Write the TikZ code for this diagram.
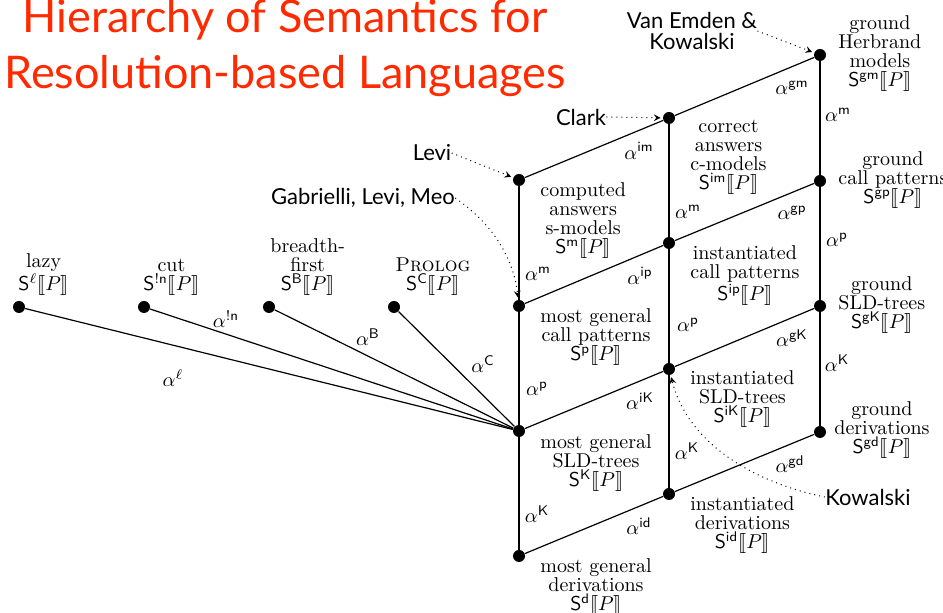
\documentclass[tikz,border=0pt]{standalone}
\usepackage{fontspec}
\usepackage{stmaryrd}
\newfontfamily\gillfont{Lato}
\definecolor{ink}{HTML}{000000}
\definecolor{titleRed}{HTML}{FF2A00}
\newcommand{\semS}[1]{$\mathsf{S}^{\mathsf{#1}}\llbracket P\rrbracket$}
\newcommand{\alf}[1]{$\alpha^{\mathsf{#1}}$}
\tikzset{
    dot/.style={
        circle,
        fill=ink,
        inner sep=0pt,
        minimum size=6pt
    },
    arc/.style={
        draw=ink,
        line width=0.6pt
    },
    cite/.style={
        ->,
        >=stealth,
        draw=ink,
        dotted,
        line width=0.5pt,
        shorten >=1pt
    },
    alabel/.style={
        font=\fontsize{10}{11}\selectfont,
        inner sep=0pt
    },
    domlabel/.style={
        font=\fontsize{10}{9.5}\selectfont,
        align=center,
        inner sep=0pt
    },
    authlabel/.style={
        font=\gillfont\fontsize{11}{10.5}\selectfont,
        text=ink,
        align=center,
        inner sep=0pt
    },
    titletext/.style={
        font=\gillfont\fontsize{22.5}{26}\selectfont,
        text=titleRed,
        anchor=base,
        inner sep=0pt
    }
}

\begin{document}
\begin{tikzpicture}[x=0.5pt,y=-0.5pt]
    \useasboundingbox (0,0) rectangle (943,613);

    % Title
    \node[titletext] (title-1) at (285,33) {Hierarchy of Semantics for};
    \node[titletext] (title-2) at (285,89) {Resolution-based Languages};

    % Search strategies on the left
    \node[dot] (lazy) at (19,307) {};
    \node[dot] (cut) at (144,307) {};
    \node[dot] (bf) at (269,307) {};
    \node[dot] (prolog) at (394,307) {};

    % Most general column
    \node[dot] (m) at (519,180) {};
    \node[dot] (p) at (519,306) {};
    \node[dot] (K) at (519,431) {};
    \node[dot] (d) at (519,556) {};

    % Instantiated column
    \node[dot] (im) at (669,118) {};
    \node[dot] (ip) at (669,243) {};
    \node[dot] (iK) at (669,369) {};
    \node[dot] (id) at (669,494) {};

    % Ground column
    \node[dot] (gm) at (820,55) {};
    \node[dot] (gp) at (820,181) {};
    \node[dot] (gK) at (820,306) {};
    \node[dot] (gd) at (820,432) {};

    % Abstractions
    \foreach \a/\b in {m/p, p/K, K/d, im/ip, ip/iK, iK/id, gm/gp, gp/gK, gK/gd} {
        \draw[arc] (\a) -- (\b);
    }
    \foreach \a/\b in {m/im, im/gm, p/ip, ip/gp, K/iK, iK/gK, d/id, id/gd} {
        \draw[arc] (\a) -- (\b);
    }
    \foreach \a in {lazy, cut, bf, prolog} {
        \draw[arc] (\a) -- (K);
    }

    % Abstraction labels
    \node[alabel] (a-lazy) at (173,378) {$\alpha^{\ell}$};
    \node[alabel] (a-cut) at (226,319) {\alf{!n}};
    \node[alabel] (a-bf) at (368,337) {\alf{B}};
    \node[alabel] (a-prolog) at (483,364) {\alf{C}};

    \node[alabel] (a-mp) at (538,274) {\alf{m}};
    \node[alabel] (a-pK) at (537,389) {\alf{p}};
    \node[alabel] (a-Kd) at (537,514) {\alf{K}};
    \node[alabel] (a-im) at (639,151) {\alf{im}};
    \node[alabel] (a-ip) at (640,276) {\alf{ip}};
    \node[alabel] (a-iK) at (640,401) {\alf{iK}};
    \node[alabel] (a-id) at (639,526) {\alf{id}};

    \node[alabel] (a-imip) at (688,212) {\alf{m}};
    \node[alabel] (a-ipiK) at (688,325) {\alf{p}};
    \node[alabel] (a-iKid) at (687,451) {\alf{K}};
    \node[alabel] (a-gm) at (792,88) {\alf{gm}};
    \node[alabel] (a-gp) at (792,213) {\alf{gp}};
    \node[alabel] (a-gK) at (792,338) {\alf{gK}};
    \node[alabel] (a-gd) at (790,464) {\alf{gd}};

    \node[alabel] (a-gmgp) at (838,115) {\alf{m}};
    \node[alabel] (a-gpgK) at (837,240) {\alf{p}};
    \node[alabel] (a-gKgd) at (837,363) {\alf{K}};

    % Semantics
    \node[domlabel, anchor=south west] (t-lazy) at (18,296) {lazy\\$\mathsf{S}^{\ell}\llbracket P\rrbracket$};
    \node[domlabel, anchor=south west] (t-cut) at (143,296) {cut\\\semS{!n}};
    \node[domlabel, anchor=south west] (t-bf) at (270,296) {breadth-\\first\\\semS{B}};
    \node[domlabel, anchor=south west] (t-prolog) at (395,296) {\textsc{Prolog}\\\semS{C}};

    \node[domlabel, anchor=north west] (t-m) at (540,182) {computed\\answers\\s-models\\\semS{m}};
    \node[domlabel, anchor=north west] (t-p) at (540,308) {most general\\call patterns\\\semS{p}};
    \node[domlabel, anchor=north west] (t-K) at (540,434) {most general\\SLD-trees\\\semS{K}};
    \node[domlabel, anchor=north west] (t-d) at (540,558) {most general\\derivations\\\semS{d}};

    \node[domlabel, anchor=north west] (t-im) at (690,120) {correct\\answers\\c-models\\\semS{im}};
    \node[domlabel, anchor=north west] (t-ip) at (690,245) {instantiated\\call patterns\\\semS{ip}};
    \node[domlabel, anchor=north west] (t-iK) at (690,370) {instantiated\\SLD-trees\\\semS{iK}};
    \node[domlabel, anchor=north west] (t-id) at (690,496) {instantiated\\derivations\\\semS{id}};

    \node[domlabel, anchor=west] (t-gm) at (838,54) {ground\\Herbrand\\models\\\semS{gm}};
    \node[domlabel, anchor=west] (t-gp) at (838,180) {ground\\call patterns\\\semS{gp}};
    \node[domlabel, anchor=west] (t-gK) at (838,305) {ground\\SLD-trees\\\semS{gK}};
    \node[domlabel, anchor=west] (t-gd) at (834,430) {ground\\derivations\\\semS{gd}};

    % Who introduced what
    \node[authlabel] (vek) at (692,31) {Van Emden \&\\Kowalski};
    \node[authlabel] (clark) at (581,117) {Clark};
    \node[authlabel] (levi) at (432,153) {Levi};
    \node[authlabel] (glm) at (363,198) {Gabrielli, Levi, Meo};
    \node[authlabel] (kow) at (868,497) {Kowalski};

    \draw[cite] (vek.east) -- (gm);
    \draw[cite] (clark.east) -- (im);
    \draw[cite] (levi.east) -- (m);
    \draw[cite] (glm.east) .. controls (490,222) and (513,255) .. (p);
    \draw[cite] (kow.west) .. controls (765,485) and (690,450) .. (iK);

\end{tikzpicture}
\end{document}
